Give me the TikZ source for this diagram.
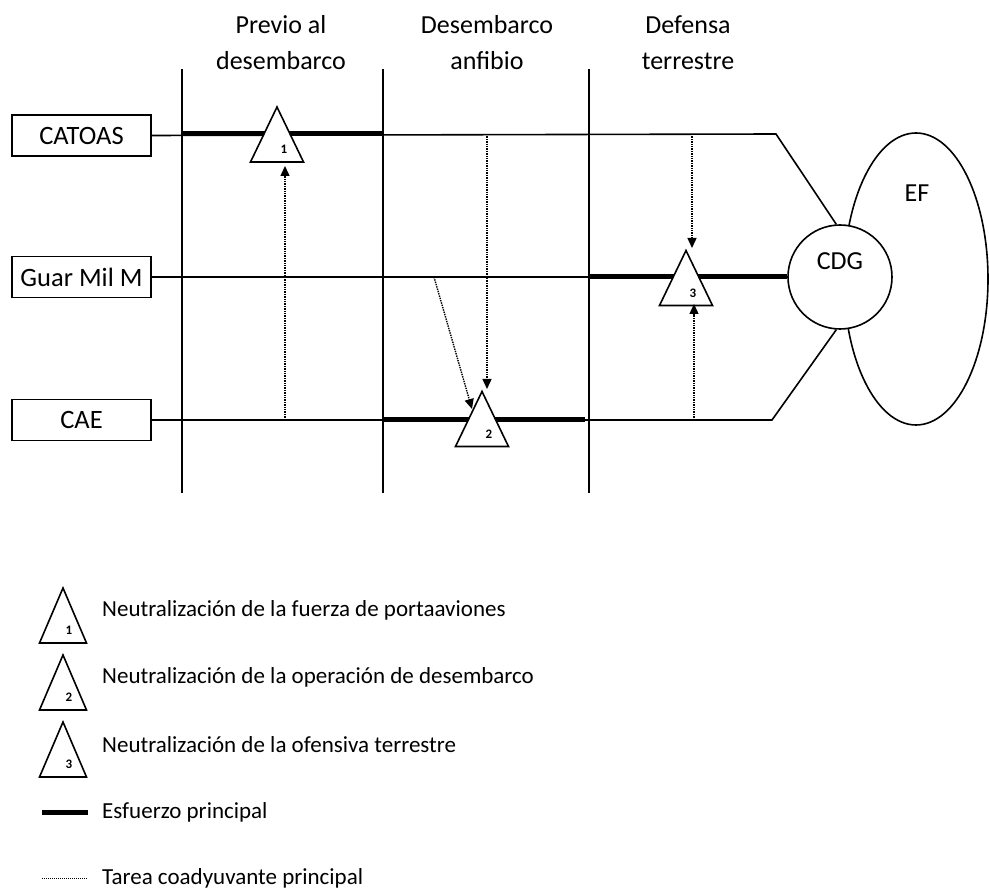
\documentclass[tikz,border=0pt]{standalone}
\usepackage{fontspec}
\setmainfont{Carlito}
\usetikzlibrary{arrows.meta,shapes.geometric}
\begin{document}
\begin{tikzpicture}[x=1pt,y=-1pt,
  thinln/.style={line width=1.6pt},
  thickln/.style={line width=5pt},
  lbl/.style={draw, line width=1.6pt, minimum width=139pt, minimum height=41pt, inner sep=0pt, font=\fontsize{26.5}{30}\selectfont},
  hdr/.style={align=center, font=\fontsize{26}{36}\selectfont},
  aux/.style={line width=1.4pt, densely dotted, -{Triangle[width=9pt,length=10pt]}},
  legtxt/.style={anchor=west, font=\fontsize{23}{27}\selectfont, inner sep=0pt},
  pics/tri/.style={code={
     \draw[fill=white, line width=1.6pt] (-26.5,27.5) -- (0,-27.5) -- (26.5,27.5) -- cycle;
     \node[font=\bfseries\fontsize{13}{13}\selectfont, inner sep=0pt] at (7,15) {#1};
  }},
  pics/legtri/.style={code={
     \draw[fill=white, line width=1.6pt] (-23.5,27.5) -- (0,-27.5) -- (23.5,27.5) -- cycle;
     \node[font=\bfseries\fontsize{13}{13}\selectfont, inner sep=0pt] at (6,15) {#1};
  }}
]
\useasboundingbox (0,0) rectangle (989,890);

% headers
\node[hdr] (h1) at (281,43) {Previo al\\desembarco};
\node[hdr] (h2) at (487,43) {Desembarco\\anfibio};
\node[hdr] (h3) at (688,43) {Defensa\\terrestre};

% labels
\node[lbl] (catoas) at (81.5,135.5) {CATOAS};
\node[lbl] (guar) at (81.5,277) {Guar Mil M};
\node[lbl] (cae) at (81.5,420) {CAE};

% EF and CDG
\node[draw, ellipse, thinln, minimum width=144pt, minimum height=292pt, inner sep=0pt] (ef) at (916,279) {};
\node (eft) at (917,193) {\fontsize{26}{30}\selectfont EF};
\node[draw, circle, thinln, fill=white, minimum size=104pt, inner sep=0pt] (cdg) at (840,277) {};
\node (cdgt) at (840,261) {\fontsize{26}{30}\selectfont CDG};

% bends
\coordinate (b1) at (776,134);
\coordinate (b3) at (772,420);

% horizontal lines
\draw[thinln] (catoas.east) -- (b1) -- (cdg.94);
\draw[thinln] (guar.east) -- (cdg.west);
\draw[thinln] (cae.east) -- (b3) -- (cdg.266);

% main effort
\coordinate (m1a) at (182,134); \coordinate (m1b) at (383,134);
\coordinate (m2a) at (383,420); \coordinate (m2b) at (585,420);
\coordinate (m3a) at (589,277);
\draw[thickln] (m1a) -- (m1b);
\draw[thickln] (m2a) -- (m2b);
\draw[thickln] (m3a) -- (cdg.west);

% vertical phase lines
\draw[thinln] (182,69) -- (182,493);
\draw[thinln] (383,69) -- (383,493);
\draw[thinln] (589,69) -- (589,493);

% triangles
\pic (t1) at (277,134.5) {tri=1};
\pic (t2) at (482,419) {tri=2};
\pic (t3) at (686,278) {tri=3};

% auxiliary tasks
\coordinate (a1s) at (285,420); \coordinate (a1e) at (285,166);
\coordinate (a2s) at (487,134); \coordinate (a2e) at (487,389);
\coordinate (a3s) at (434,277); \coordinate (a3e) at (472,409);
\coordinate (a4s) at (692,134); \coordinate (a4e) at (692,248);
\coordinate (a5s) at (694,420); \coordinate (a5e) at (694,304);
\draw[aux] (a1s) -- (a1e);
\draw[aux] (a2s) -- (a2e);
\draw[aux] (a3s) -- (a3e);
\draw[aux] (a4s) -- (a4e);
\draw[aux] (a5s) -- (a5e);

% legend
\pic (l1) at (63,615.5) {legtri=1};
\pic (l2) at (63,682.5) {legtri=2};
\pic (l3) at (63,749.5) {legtri=3};
\node[legtxt] (lt1) at (102,610) {Neutralización de la fuerza de portaaviones};
\node[legtxt] (lt2) at (102,677) {Neutralización de la operación de desembarco};
\node[legtxt] (lt3) at (102,745) {Neutralización de la ofensiva terrestre};
\coordinate (le1a) at (42,812); \coordinate (le1b) at (88,812);
\draw[thickln] (le1a) -- (le1b);
\node[legtxt] (lt4) at (102,812) {Esfuerzo principal};
\coordinate (le2a) at (42,878); \coordinate (le2b) at (88,878);
\draw[line width=1pt, densely dotted] (le2a) -- (le2b);
\node[legtxt] (lt5) at (102,878) {Tarea coadyuvante principal};
\end{tikzpicture}
\end{document}
